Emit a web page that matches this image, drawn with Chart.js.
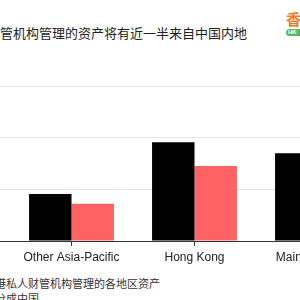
<!DOCTYPE html>
<html>
<head>
<meta charset="utf-8">
<script src="https://cdn.jsdelivr.net/npm/chart.js@4/dist/chart.umd.min.js"></script>
<style>
  html, body { margin: 0; padding: 0; width: 300px; height: 300px; overflow: hidden; background: #fff; }
  .title { position: absolute; left: 0; top: 24px; font: 13px "Noto Sans CJK SC", sans-serif; color: #222; white-space: nowrap; line-height: 18px; }
  .note { position: absolute; left: -5px; font: 11px "Noto Sans CJK SC", sans-serif; color: #333; white-space: nowrap; line-height: 15px; }
  .logo { position: absolute; left: 286px; top: 10px; font: bold 15px "Noto Sans CJK SC", sans-serif; color: #f07a2c; line-height: 18px; }
  .pill { position: absolute; left: 286px; top: 29px; width: 22px; height: 7px; border-radius: 4px; background: #5cb85c; color: #fff; font: bold 6px "Liberation Sans", sans-serif; line-height: 7px; padding-left: 2px; }
  #wrap { position: absolute; left: 0; top: 76px; width: 379px; height: 189px; }
</style>
</head>
<body>
<div class="title">管机构管理的资产将有近一半来自中国内地</div>
<div class="logo">香</div>
<div class="pill">HK</div>
<div id="wrap"><canvas id="c"></canvas></div>
<div class="note" style="top:276px">港私人财管机构管理的各地区资产</div>
<div class="note" style="top:291px">分成中国</div>
<script>
// regions along the x axis (chart is cropped, left axis labels fall outside)
const regions = ['Other Asia-Pacific', 'Hong Kong', 'Mainland China'];
const seriesA = [0.91, 1.91, 1.70];
const seriesB = [0.72, 1.45, 2.20];
const yTicks = [0, 1, 2, 3];

new Chart(document.getElementById('c'), {
    type: 'bar',
    data: {
        labels: regions,
        datasets: [
            { label: 'A', data: seriesA, backgroundColor: '#000000', categoryPercentage: 0.69, barPercentage: 1.0 },
            { label: 'B', data: seriesB, backgroundColor: '#ff6262', categoryPercentage: 0.69, barPercentage: 1.0 },
        ],
    },
    options: {
        responsive: true, maintainAspectRatio: false, animation: false,
        layout: { padding: { top: 10, left: 0, right: 0, bottom: 0 } },
        plugins: { legend: { display: false }, tooltip: { enabled: false } },
        scales: {
            x: {
                grid: { offset: false, drawOnChartArea: false, drawTicks: true, tickLength: 5, color: '#333' },
                border: { display: true, color: '#333' },
                ticks: { color: '#222', padding: 4, font: { family: 'Liberation Sans', size: 12 } },
                afterFit: s => { s.height = 24; },
            },
            y: {
                min: yTicks[0], max: yTicks[yTicks.length - 1],
                afterBuildTicks: s => { s.ticks = yTicks.map(v => ({ value: v })); },
                grid: { color: c => c.tick && c.tick.value === 0 ? '#333' : '#e4e4e4', drawTicks: true, tickLength: 10 },
                border: { display: false },
                ticks: { display: false },
                afterFit: s => { s.width = 10; },
            },
        },
    },
});
</script>
</body>
</html>
